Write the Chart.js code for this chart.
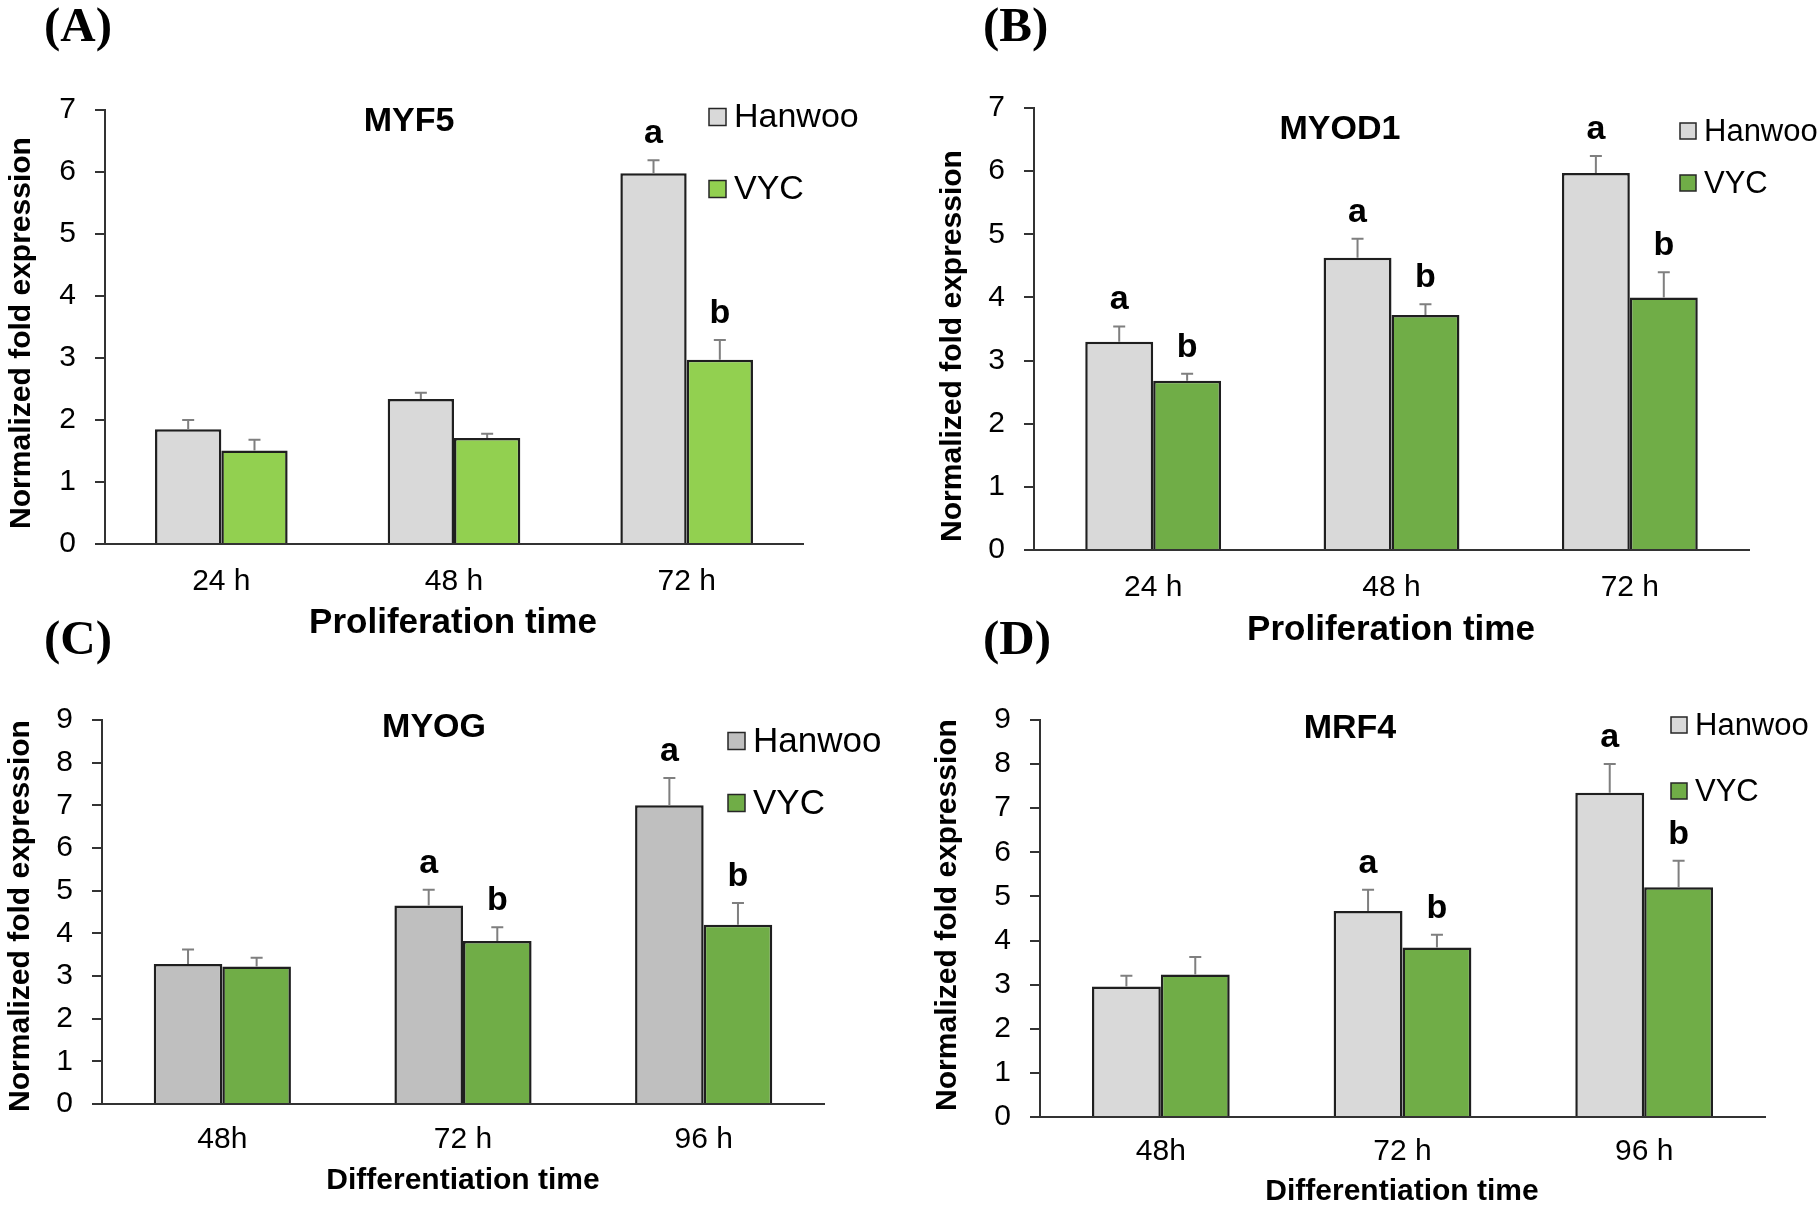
<!DOCTYPE html>
<html>
<head>
<meta charset="utf-8">
<script src="https://cdn.jsdelivr.net/npm/chart.js@4.4.0/dist/chart.umd.min.js"></script>
<style>
    html, body {margin: 0; padding: 0; background: #fff;}
    #page {position: relative; width: 1817px; height: 1208px; overflow: hidden;}
    #page canvas {position: absolute; left: 0; top: 0;}
</style>
</head>
<body>
<div id="page">
    <canvas id="chartA" width="1817" height="1208"></canvas>
    <canvas id="chartB" width="1817" height="1208"></canvas>
    <canvas id="chartC" width="1817" height="1208"></canvas>
    <canvas id="chartD" width="1817" height="1208"></canvas>
</div>
<script>
// categories
const prolifTimes = ['24 h', '48 h', '72 h'];
const diffTimes = ['48h', '72 h', '96 h'];
const seriesNames = ['Hanwoo', 'VYC'];

// MYF5 (A)
const myf5Hanwoo = [1.85, 2.34, 5.98];
const myf5HanwooSd = [0.15, 0.10, 0.21];
const myf5Vyc = [1.51, 1.71, 2.97];
const myf5VycSd = [0.17, 0.07, 0.32];
const myf5HanwooSig = ['', '', 'a'];
const myf5VycSig = ['', '', 'b'];

// MYOD1 (B)
const myod1Hanwoo = [3.30, 4.63, 5.97];
const myod1HanwooSd = [0.24, 0.30, 0.27];
const myod1Vyc = [2.68, 3.72, 4.00];
const myod1VycSd = [0.11, 0.17, 0.40];
const myod1HanwooSig = ['a', 'a', 'a'];
const myod1VycSig = ['b', 'b', 'b'];

// MYOG (C)
const myogHanwoo = [3.28, 4.65, 7.00];
const myogHanwooSd = [0.34, 0.37, 0.64];
const myogVyc = [3.22, 3.82, 4.20];
const myogVycSd = [0.21, 0.32, 0.51];
const myogHanwooSig = ['', 'a', 'a'];
const myogVycSig = ['', 'b', 'b'];

// MRF4 (D)
const mrf4Hanwoo = [2.96, 4.67, 7.35];
const mrf4HanwooSd = [0.24, 0.48, 0.65];
const mrf4Vyc = [3.23, 3.84, 5.21];
const mrf4VycSd = [0.40, 0.29, 0.60];
const mrf4HanwooSig = ['', 'a', 'a'];
const mrf4VycSig = ['', 'b', 'b'];

// axis ticks
const prolifTicks = [0, 1, 2, 3, 4, 5, 6, 7];
const diffTicks = [0, 1, 2, 3, 4, 5, 6, 7, 8, 9];

const W = 1817, H = 1208;
const Y_W = 80, X_H = 70;
const SANS = "'Liberation Sans', Arial, sans-serif";
const SERIF = "'Liberation Serif', 'Times New Roman', serif";
Chart.defaults.font.family = SANS;
Chart.defaults.color = '#000';

// draws error bars, significance letters, titles, legend and panel label
const extrasPlugin = {
    id: 'extras',
    afterDatasetsDraw(chart, args, opts) {
        const ctx = chart.ctx;
        const y = chart.scales.y;
        ctx.save();
        chart.data.datasets.forEach((ds, i) => {
            chart.getDatasetMeta(i).data.forEach((bar, j) => {
                const top = y.getPixelForValue(ds.data[j] + ds.sd[j]);
                ctx.strokeStyle = '#7f7f7f';
                ctx.lineWidth = 2;
                ctx.beginPath();
                ctx.moveTo(bar.x, bar.y);
                ctx.lineTo(bar.x, top);
                ctx.moveTo(bar.x - 6, top);
                ctx.lineTo(bar.x + 6, top);
                ctx.stroke();
                if (ds.sig[j]) {
                    ctx.fillStyle = '#000';
                    ctx.font = 'bold 34px ' + SANS;
                    ctx.textAlign = 'center';
                    ctx.textBaseline = 'alphabetic';
                    ctx.fillText(ds.sig[j], bar.x, top - 17);
                }
            });
        });
        ctx.restore();
    },
    afterDraw(chart, args, o) {
        const ctx = chart.ctx;
        ctx.save();
        ctx.fillStyle = '#000';
        ctx.textBaseline = 'middle';

        // panel label
        ctx.font = 'bold 49px ' + SERIF;
        ctx.textAlign = 'left';
        ctx.fillText(o.panel, o.panelPos[0], o.panelPos[1]);

        // title
        ctx.font = 'bold 34px ' + SANS;
        ctx.textAlign = 'center';
        ctx.fillText(o.title, o.titlePos[0], o.titlePos[1]);

        // x title
        ctx.font = 'bold ' + o.xTitleSize + 'px ' + SANS;
        ctx.fillText(o.xTitle, o.xTitlePos[0], o.xTitlePos[1]);

        // y title
        ctx.save();
        ctx.translate(o.yTitlePos[0], o.yTitlePos[1]);
        ctx.rotate(-Math.PI / 2);
        ctx.font = 'bold 30px ' + SANS;
        ctx.fillText('Normalized fold expression', 0, 0);
        ctx.restore();

        // legend
        const lg = o.legend;
        chart.data.datasets.forEach((ds, i) => {
            const cy = lg.ys[i];
            ctx.fillStyle = ds.backgroundColor;
            ctx.fillRect(lg.x, cy - lg.box / 2, lg.box, lg.box);
            ctx.strokeStyle = '#262626';
            ctx.lineWidth = 1.5;
            ctx.strokeRect(lg.x, cy - lg.box / 2, lg.box, lg.box);
            ctx.fillStyle = '#000';
            ctx.font = lg.font + 'px ' + SANS;
            ctx.textAlign = 'left';
            ctx.fillText(ds.label, lg.x + lg.box + 8, cy + 1);
        });
        ctx.restore();
    }
};

function makePanel(id, g) {
    const ticks = g.tickValues;
    new Chart(document.getElementById(id), {
        type: 'bar',
        data: {
            labels: g.labels,
            datasets: [{
                label: seriesNames[0],
                data: g.hanwoo,
                sd: g.hanwooSd,
                sig: g.hanwooSig,
                backgroundColor: g.hanwooColor,
                borderColor: '#1f1f1f',
                borderWidth: 2.5
            }, {
                label: seriesNames[1],
                data: g.vyc,
                sd: g.vycSd,
                sig: g.vycSig,
                backgroundColor: g.vycColor,
                borderColor: '#1f1f1f',
                borderWidth: 2.5
            }]
        },
        options: {
            responsive: false,
            animation: false,
            events: [],
            categoryPercentage: 0.57,
            barPercentage: 1.0,
            layout: {
                padding: {
                    left: g.left - Y_W,
                    right: W - g.right,
                    top: g.top,
                    bottom: H - g.bottom - X_H
                }
            },
            plugins: {
                legend: {display: false},
                tooltip: {enabled: false},
                extras: g.extras
            },
            scales: {
                x: {
                    grid: {display: false, drawTicks: false},
                    border: {display: true, color: '#333', width: 2},
                    ticks: {font: {size: 30}, padding: g.xTickPad, color: '#000'},
                    afterFit: s => {
                        s.height = X_H;
                        s.paddingLeft = 0;
                        s.paddingRight = 0;
                    }
                },
                y: {
                    min: ticks[0],
                    max: ticks[ticks.length - 1],
                    ticks: {stepSize: 1, font: {size: 30}, padding: 19, color: '#000'},
                    grid: {drawOnChartArea: false, drawTicks: true, tickLength: 10, color: '#333', lineWidth: 2},
                    border: {display: true, color: '#333', width: 2},
                    afterFit: s => {
                        s.width = Y_W;
                        s.paddingTop = 0;
                        s.paddingBottom = 0;
                    }
                }
            }
        },
        plugins: [extrasPlugin]
    });
}

makePanel('chartA', {
    labels: prolifTimes, tickValues: prolifTicks,
    hanwoo: myf5Hanwoo, hanwooSd: myf5HanwooSd, hanwooSig: myf5HanwooSig,
    vyc: myf5Vyc, vycSd: myf5VycSd, vycSig: myf5VycSig,
    hanwooColor: '#d9d9d9', vycColor: '#92d050',
    left: 105, right: 803, top: 110, bottom: 544, xTickPad: 20,
    extras: {
        panel: '(A)', panelPos: [44, 28],
        title: 'MYF5', titlePos: [409, 122],
        xTitle: 'Proliferation time', xTitleSize: 35, xTitlePos: [453, 623],
        yTitlePos: [22, 333],
        legend: {x: 709, ys: [117, 189], box: 17, font: 34}
    }
});

makePanel('chartB', {
    labels: prolifTimes, tickValues: prolifTicks,
    hanwoo: myod1Hanwoo, hanwooSd: myod1HanwooSd, hanwooSig: myod1HanwooSig,
    vyc: myod1Vyc, vycSd: myod1VycSd, vycSig: myod1VycSig,
    hanwooColor: '#d9d9d9', vycColor: '#70ad47',
    left: 1034, right: 1749, top: 108, bottom: 550, xTickPad: 20,
    extras: {
        panel: '(B)', panelPos: [983, 28],
        title: 'MYOD1', titlePos: [1340, 130],
        xTitle: 'Proliferation time', xTitleSize: 35, xTitlePos: [1391, 630],
        yTitlePos: [953, 346],
        legend: {x: 1680, ys: [131, 183], box: 16, font: 31}
    }
});

makePanel('chartC', {
    labels: diffTimes, tickValues: diffTicks,
    hanwoo: myogHanwoo, hanwooSd: myogHanwooSd, hanwooSig: myogHanwooSig,
    vyc: myogVyc, vycSd: myogVycSd, vycSig: myogVycSig,
    hanwooColor: '#bfbfbf', vycColor: '#70ad47',
    left: 102, right: 824, top: 720, bottom: 1104, xTickPad: 18,
    extras: {
        panel: '(C)', panelPos: [44, 641],
        title: 'MYOG', titlePos: [434, 728],
        xTitle: 'Differentiation time', xTitleSize: 30, xTitlePos: [463, 1181],
        yTitlePos: [21, 916],
        legend: {x: 728, ys: [741, 803], box: 17, font: 35}
    }
});

makePanel('chartD', {
    labels: diffTimes, tickValues: diffTicks,
    hanwoo: mrf4Hanwoo, hanwooSd: mrf4HanwooSd, hanwooSig: mrf4HanwooSig,
    vyc: mrf4Vyc, vycSd: mrf4VycSd, vycSig: mrf4VycSig,
    hanwooColor: '#d9d9d9', vycColor: '#70ad47',
    left: 1040, right: 1765, top: 720, bottom: 1117, xTickPad: 17,
    extras: {
        panel: '(D)', panelPos: [983, 641],
        title: 'MRF4', titlePos: [1350, 729],
        xTitle: 'Differentiation time', xTitleSize: 30, xTitlePos: [1402, 1192],
        yTitlePos: [948, 915],
        legend: {x: 1671, ys: [725, 791], box: 16, font: 31}
    }
});
</script>
</body>
</html>
